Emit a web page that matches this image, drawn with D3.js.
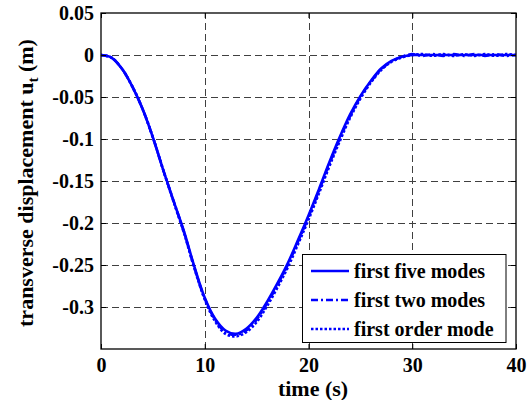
<!DOCTYPE html>
<html>
<head>
<meta charset="utf-8">
<script src="https://cdn.jsdelivr.net/npm/d3@7"></script>
<style>
  html, body { margin: 0; padding: 0; background: #fff; }
  svg { display: block; }
  svg text { font-family: "Liberation Serif", "Times New Roman", Times, "DejaVu Serif", serif; font-weight: bold; }
</style>
</head>
<body>
<svg id="chart" width="529" height="400"></svg>
<script>
// Time samples (s)
const timeS = d3.range(0, 41);

// Transverse displacement u_t (m) for each modal truncation
const firstFiveModes = [
  0, -0.003, -0.016, -0.037, -0.064, -0.098, -0.137, -0.174, -0.210, -0.252,
  -0.289, -0.314, -0.328, -0.332, -0.326, -0.313, -0.294, -0.272, -0.248, -0.220,
  -0.191, -0.160, -0.128, -0.098, -0.071, -0.049, -0.031, -0.016, -0.007, -0.002,
  0, 0, 0, 0, 0, 0, 0, 0, 0, 0, 0
];
const firstTwoModes = [
  0, -0.003, -0.016, -0.037, -0.064, -0.098, -0.137, -0.174, -0.211, -0.253,
  -0.290, -0.315, -0.330, -0.333, -0.328, -0.315, -0.296, -0.274, -0.250, -0.222,
  -0.193, -0.162, -0.130, -0.100, -0.073, -0.050, -0.032, -0.017, -0.008, -0.002,
  0.001, -0.001, 0.001, -0.001, 0.001, -0.001, 0.001, -0.001, 0.001, -0.001, 0
];
const firstOrderMode = [
  0, -0.003, -0.016, -0.037, -0.064, -0.098, -0.137, -0.175, -0.212, -0.254,
  -0.291, -0.317, -0.332, -0.335, -0.330, -0.318, -0.299, -0.277, -0.253, -0.225,
  -0.196, -0.165, -0.133, -0.103, -0.075, -0.052, -0.033, -0.018, -0.008, -0.003,
  0, 0.001, -0.001, 0.001, -0.001, 0.001, -0.001, 0.001, -0.001, 0.001, 0
];

const seriesNames = ["first five modes", "first two modes", "first order mode"];
const xTicks = [0, 10, 20, 30, 40];
const yTicks = [0.05, 0, -0.05, -0.1, -0.15, -0.2, -0.25, -0.3];
const yTickLabels = ["0.05", "0", "-0.05", "-0.1", "-0.15", "-0.2", "-0.25", "-0.3"];

const FONT = "'Liberation Serif', 'Times New Roman', Times, 'DejaVu Serif', serif";
const svg = d3.select("#chart");
const plot = { left: 101, right: 516, top: 13, bottom: 349 };

const x = d3.scaleLinear().domain([0, 40]).range([plot.left, plot.right]);
const y = d3.scaleLinear().domain([-0.35, 0.05]).range([plot.bottom, plot.top]);

// Dashed grid
const grid = svg.append("g").attr("stroke", "#404040").attr("stroke-width", 1)
  .attr("stroke-dasharray", "7,4").attr("fill", "none");
grid.selectAll("line.h").data(yTicks.filter(v => v > -0.35 && v < 0.05)).join("line")
  .attr("class", "h")
  .attr("x1", plot.left).attr("x2", plot.right)
  .attr("y1", d => Math.round(y(d)) + 0.5).attr("y2", d => Math.round(y(d)) + 0.5);
grid.selectAll("line.v").data(xTicks.filter(v => v > 0 && v < 40)).join("line")
  .attr("class", "v")
  .attr("y1", plot.bottom).attr("y2", plot.top)
  .attr("x1", d => Math.round(x(d)) + 0.5).attr("x2", d => Math.round(x(d)) + 0.5);

// Curves
const line = d3.line()
  .x((d, i) => x(timeS[i]))
  .y(d => y(d))
  .curve(d3.curveCatmullRom.alpha(0.5));

const styles = [
  { data: firstFiveModes, dash: null, width: 2.6 },
  { data: firstTwoModes, dash: "7,3,2,3", width: 2.6 },
  { data: firstOrderMode, dash: "2.5,2", width: 2.6 }
];
svg.append("g").selectAll("path").data(styles).join("path")
  .attr("d", s => line(s.data))
  .attr("fill", "none")
  .attr("stroke", "#0000ff")
  .attr("stroke-width", s => s.width)
  .attr("stroke-dasharray", s => s.dash);

// Axes with inward ticks on all sides
const fontSize = 20;
const titleSize = 21;
const yAxis = d3.axisLeft(y).tickValues(yTicks).tickSize(-5).tickPadding(7)
  .tickFormat((d, i) => yTickLabels[i]);
const xAxis = d3.axisBottom(x).tickValues(xTicks).tickSize(-5).tickPadding(9)
  .tickFormat(d3.format("d"));

svg.append("g").attr("transform", `translate(${plot.left},0)`).call(yAxis);
svg.append("g").attr("transform", `translate(0,${plot.bottom})`).call(xAxis);
svg.append("g").attr("transform", `translate(${plot.right},0)`)
  .call(d3.axisRight(y).tickValues(yTicks).tickSize(-5).tickFormat(""));
svg.append("g").attr("transform", `translate(0,${plot.top})`)
  .call(d3.axisTop(x).tickValues(xTicks).tickSize(-5).tickFormat(""));

svg.selectAll(".domain").remove();
svg.selectAll(".tick line").attr("stroke", "#000").attr("stroke-width", 1);
svg.selectAll("g[font-family]").attr("font-family", FONT).attr("font-size", fontSize);
svg.selectAll(".tick text").attr("fill", "#000")
  .style("font-family", FONT).style("font-size", fontSize + "px").style("font-weight", "bold");

// Axes box
svg.append("rect")
  .attr("x", plot.left).attr("y", plot.top)
  .attr("width", plot.right - plot.left).attr("height", plot.bottom - plot.top)
  .attr("fill", "none").attr("stroke", "#000").attr("stroke-width", 1.3);

// Axis titles
svg.append("text")
  .attr("x", 313).attr("y", 396)
  .attr("text-anchor", "middle")
  .style("font-family", FONT).style("font-size", titleSize + 1 + "px")
  .text("time (s)");

const yLabel = svg.append("text")
  .attr("transform", `translate(33,${(plot.top + plot.bottom) / 2 + 2}) rotate(-90)`)
  .attr("text-anchor", "middle")
  .style("font-family", FONT).style("font-size", titleSize + 1 + "px");
yLabel.append("tspan").text("transverse displacement u");
yLabel.append("tspan").attr("dy", 5).style("font-size", "15px").text("t");
yLabel.append("tspan").attr("dy", -5).text(" (m)");

// Legend
const legend = svg.append("g");
legend.append("rect")
  .attr("x", 302.5).attr("y", 254.5).attr("width", 203.5).attr("height", 88)
  .attr("fill", "#fff").attr("stroke", "#000").attr("stroke-width", 1);
const rowY = [271, 300, 329];
const rows = legend.selectAll("g.row").data(styles).join("g")
  .attr("class", "row")
  .attr("transform", (s, i) => `translate(0,${rowY[i]})`);
rows.append("line")
  .attr("x1", 311).attr("x2", 349).attr("y1", 0).attr("y2", 0)
  .attr("stroke", "#0000ff").attr("stroke-width", s => s.width)
  .attr("stroke-dasharray", s => s.dash);
rows.append("text")
  .attr("x", 354).attr("dy", "0.33em")
  .style("font-family", FONT).style("font-size", fontSize + "px")
  .text((s, i) => seriesNames[i]);
</script>
</body>
</html>
